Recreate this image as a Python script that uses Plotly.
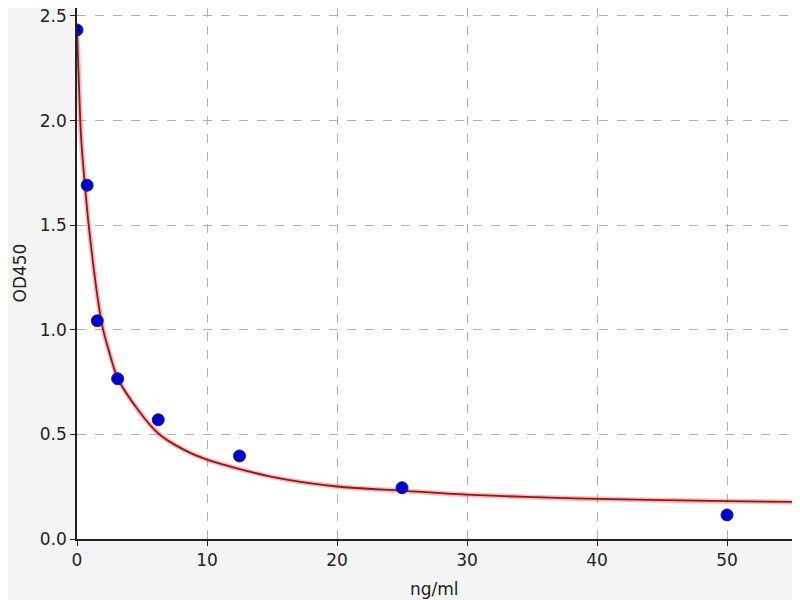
import plotly.graph_objects as go

# standard points (concentration ng/ml, OD450)
conc = [0, 0.78, 1.56, 3.125, 6.25, 12.5, 25, 50]
od450 = [2.433, 1.691, 1.043, 0.766, 0.570, 0.397, 0.245, 0.115]

# fitted curve
curve_x = [0, 0.25, 0.38, 0.64, 0.89, 1.61, 2.0, 2.43, 3.15, 4.69, 6.28, 8.2, 10, 15, 20, 25, 30, 38.3, 50, 55]
curve_y = [2.43, 2.00, 1.86, 1.67, 1.506, 1.143, 1.003, 0.904, 0.766, 0.618, 0.503, 0.427, 0.379, 0.297, 0.251,
           0.231, 0.212, 0.194, 0.181, 0.177]

x_ticks = [0, 10, 20, 30, 40, 50]
y_ticks = [0.0, 0.5, 1.0, 1.5, 2.0, 2.5]

FONT = dict(family='DejaVu Sans', size=17, color='#222222')

fig = go.Figure()

# soft red halo under the curve
fig.add_trace(go.Scatter(
    x=curve_x, y=curve_y, mode='lines',
    line=dict(color='rgba(255,60,60,0.35)', width=5, shape='spline', smoothing=0.8),
    hoverinfo='skip', showlegend=False,
))
fig.add_trace(go.Scatter(
    x=curve_x, y=curve_y, mode='lines',
    line=dict(color='#8b1a1a', width=1.8, shape='spline', smoothing=0.8),
    showlegend=False,
))
fig.add_trace(go.Scatter(
    x=conc, y=od450, mode='markers',
    marker=dict(color='#0000cd', size=12, line=dict(color='#1a1a8c', width=1)),
    showlegend=False,
))

axis_common = dict(
    showline=True, mirror=True, linecolor='#222222', linewidth=1.5,
    ticks='outside', ticklen=5, tickwidth=1.2, tickcolor='#222222',
    showgrid=True, gridcolor='#b0b0b0', gridwidth=1, griddash='dash',
    zeroline=False, automargin=False, ticklabeloverflow='allow',
    tickfont=FONT,
)

fig.update_xaxes(range=[0, 55], tickvals=x_ticks, **axis_common)
fig.update_yaxes(range=[0, 2.538], tickvals=y_ticks, tickformat='.1f', **axis_common)

# axis titles placed as annotations
fig.add_annotation(text='ng/ml', xref='paper', yref='paper', x=0.5, y=0,
                   xanchor='center', yanchor='middle', yshift=-50, showarrow=False, font=FONT)
fig.add_annotation(text='OD450', xref='paper', yref='paper', x=0, y=0.5, textangle=-90,
                   xanchor='center', yanchor='middle', xshift=-58, showarrow=False, font=FONT)

# page body adds an 8px offset, so the figure is 8px smaller than the window
fig.update_layout(
    width=792, height=592,
    margin=dict(l=69, r=8, t=0, b=61),
    paper_bgcolor='#f4f4f4',
    plot_bgcolor='white',
)

fig.write_html("out.html")
